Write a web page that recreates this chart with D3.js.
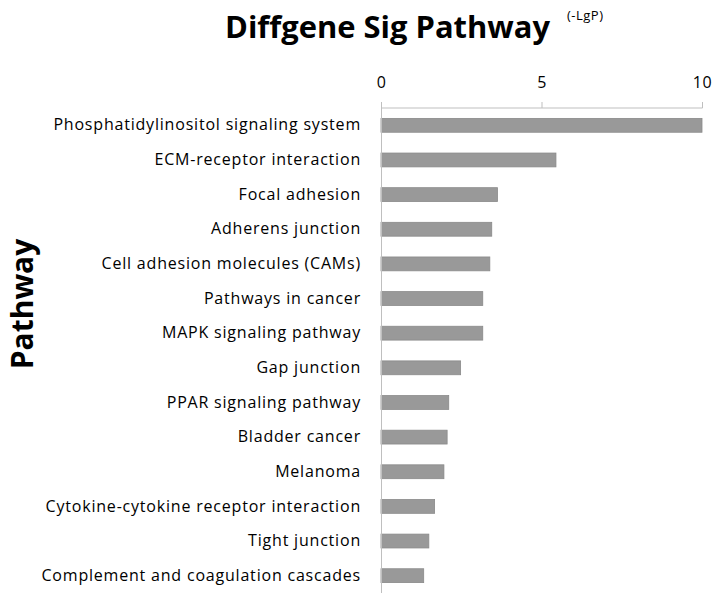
<!DOCTYPE html>
<meta charset="utf-8">
<title>Diffgene Sig Pathway</title>
<style>
  body { margin: 0; background: #fff; }
  text { font-family: "Open Sans", "Liberation Sans", sans-serif; fill: #000; }
</style>
<body>
<div id="chart"></div>
<script src="https://d3js.org/d3.v7.min.js"></script>
<script>

// pathways, top to bottom
var pathways = [
  "Phosphatidylinositol signaling system",
  "ECM-receptor interaction",
  "Focal adhesion",
  "Adherens junction",
  "Cell adhesion molecules (CAMs)",
  "Pathways in cancer",
  "MAPK signaling pathway",
  "Gap junction",
  "PPAR signaling pathway",
  "Bladder cancer",
  "Melanoma",
  "Cytokine-cytokine receptor interaction",
  "Tight junction",
  "Complement and coagulation cascades"
];

// -LgP values
var lgp = [10.0, 5.45, 3.63, 3.45, 3.39, 3.17, 3.17, 2.48, 2.11, 2.06, 1.96, 1.67, 1.49, 1.33];

var xTicks = [0, 5, 10];

var width = 720, height = 602;
var margin = {top: 108, right: 18, bottom: 9, left: 381};

var svg = d3.select("#chart")
  .append("svg")
    .attr("width", width)
    .attr("height", height);

var g = svg.append("g")
    .attr("transform", "translate(" + margin.left + "," + margin.top + ")");

var x = d3.scaleLinear()
    .domain([0, 10])
    .range([0, width - margin.left - margin.right]);

var y = d3.scaleBand()
    .domain(pathways)
    .range([0, height - margin.top - margin.bottom])
    .paddingInner(0.6)
    .paddingOuter(0.3);

// bars
g.selectAll("rect.bar")
  .data(pathways)
  .enter()
  .append("rect")
    .attr("class", "bar")
    .attr("x", 0)
    .attr("y", function(d) { return y(d); })
    .attr("width", function(d, i) { return x(lgp[i]); })
    .attr("height", y.bandwidth())
    .style("fill", "#999999")
    .style("stroke", "#8a8a8a")
    .style("stroke-width", 0.8);

// top axis
var xAxis = g.append("g")
    .call(d3.axisTop(x).tickValues(xTicks).tickSize(6).tickPadding(14));
xAxis.select(".domain").attr("stroke", "#bfbfbf").attr("d", "M0.5,0H" + (x(10) + 0.5));
xAxis.selectAll(".tick line").attr("stroke", "#bfbfbf");
xAxis.selectAll(".tick text")
    .style("font-size", "16px")
    .style("letter-spacing", "0.5px")
    .attr("fill", "#000");

// left axis
var yAxis = g.append("g")
    .call(d3.axisLeft(y).tickSize(0).tickPadding(20));
yAxis.select(".domain").attr("stroke", "#bfbfbf").attr("d", "M0.5,0V" + (height - margin.top - margin.bottom));
yAxis.selectAll(".tick text")
    .style("font-size", "16px")
    .style("letter-spacing", "0.8px")
    .attr("fill", "#000");

// title
svg.append("text")
    .attr("x", 225)
    .attr("y", 38)
    .style("font-size", "30px")
    .style("font-weight", "bold")
    .attr("textLength", 325)
    .attr("lengthAdjust", "spacingAndGlyphs")
    .text("Diffgene Sig Pathway");

svg.append("text")
    .attr("x", 567)
    .attr("y", 20)
    .style("font-size", "13px")
    .style("letter-spacing", "0.5px")
    .text("(-LgP)");

// y title
svg.append("text")
    .attr("transform", "translate(33,304) rotate(-90)")
    .attr("text-anchor", "middle")
    .style("font-size", "30px")
    .style("font-weight", "bold")
    .text("Pathway");

</script>
</body>
